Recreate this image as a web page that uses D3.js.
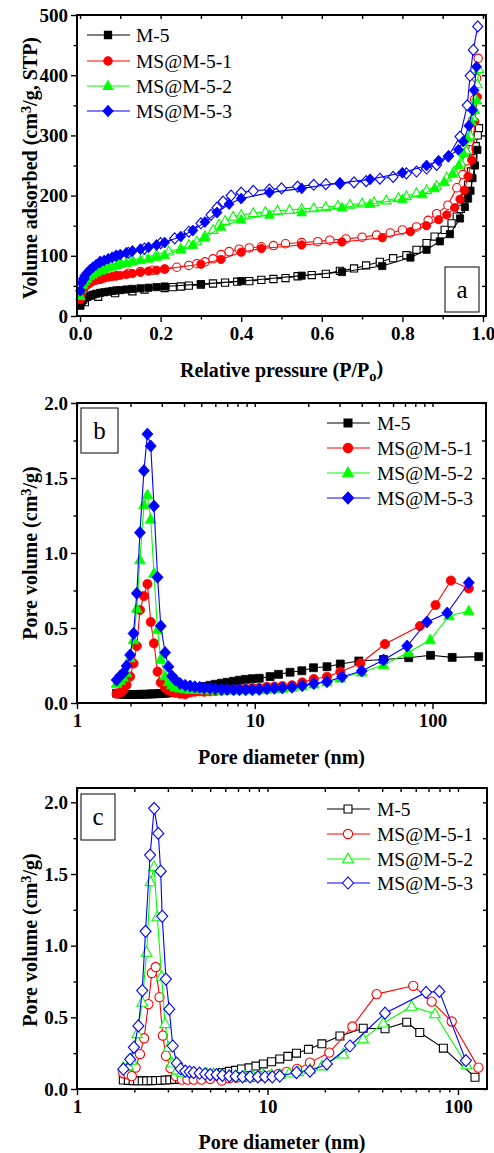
<!DOCTYPE html>
<html><head><meta charset="utf-8">
<script src="https://cdn.jsdelivr.net/npm/d3@7"></script>
<style>
body{margin:0;background:#fff}
svg{display:block}
text{font-family:"Liberation Serif","Times New Roman",serif;fill:#000}
</style>
</head><body>
<svg id="chart" width="494" height="1153"></svg>
<script>
// ---------------- DATA ----------------
const seriesNames = ["M-5", "MS@M-5-1", "MS@M-5-2", "MS@M-5-3"];
const panelLetters = ["a", "b", "c"];

const pressureTicks = [0.0, 0.2, 0.4, 0.6, 0.8, 1.0];
const volumeTicks = [0, 100, 200, 300, 400, 500];
const poreTicks = [1, 10, 100];
const poreVolumeTicks = [0.0, 0.5, 1.0, 1.5, 2.0];

// (a) isotherms: [P/P0, volume]
const m5Ads = [[0.001,17],[0.004,23],[0.008,27],[0.012,30],[0.018,32],[0.025,34],[0.032,35.5],[0.04,37],[0.05,38.5],[0.06,39.5],[0.07,40.5],[0.08,41.5],[0.09,42.5],[0.10,43],[0.115,44],[0.13,45],[0.15,46],[0.17,47],[0.19,48],[0.21,49],[0.30,53],[0.40,58],[0.55,67],[0.65,73],[0.75,83],[0.82,97],[0.86,110],[0.893,124],[0.918,136],[0.943,162],[0.955,181],[0.963,195],[0.969,208],[0.974,229],[0.98,250],[0.986,276]];
const m5Des = [[0.99,312],[0.987,300],[0.982,282],[0.976,262],[0.97,240],[0.963,218],[0.955,196],[0.945,178],[0.935,165],[0.922,154],[0.905,143],[0.88,132],[0.86,121],[0.835,110],[0.81,101],[0.777,96],[0.744,90],[0.71,84],[0.68,79],[0.645,75],[0.61,70],[0.575,68],[0.54,66],[0.51,63],[0.48,61.5],[0.45,60],[0.42,58],[0.39,57],[0.36,55.5],[0.33,54],[0.30,52],[0.27,50.5],[0.25,49],[0.23,48],[0.21,46.5],[0.16,44],[0.13,41],[0.087,38],[0.045,32],[0.012,23]];

const s1Ads = [[0.001,27],[0.004,36],[0.008,43],[0.012,48],[0.018,52],[0.025,55],[0.032,57.5],[0.04,59.5],[0.05,61.5],[0.06,63],[0.07,64.5],[0.08,65.5],[0.09,66.5],[0.10,67.5],[0.115,69],[0.13,70.5],[0.15,72.5],[0.17,74.5],[0.19,76],[0.21,78],[0.30,86],[0.35,94],[0.40,106],[0.45,112],[0.55,118],[0.65,123],[0.75,130],[0.82,140],[0.86,150],[0.89,160],[0.91,168],[0.93,180],[0.943,194],[0.954,209],[0.963,232],[0.972,259],[0.98,323],[0.986,364]];
const s1Des = [[0.988,428],[0.984,395],[0.979,360],[0.974,325],[0.968,290],[0.96,258],[0.95,235],[0.935,213],[0.913,184],[0.885,170],[0.864,159],[0.835,148],[0.80,143],[0.77,138],[0.736,134.5],[0.70,131],[0.66,128],[0.62,126],[0.59,123.5],[0.55,122],[0.51,120],[0.48,117],[0.45,115],[0.42,113],[0.395,111],[0.37,107],[0.35,102],[0.33,95],[0.31,90],[0.29,87],[0.27,84],[0.24,81],[0.21,78],[0.18,76],[0.15,74],[0.12,71],[0.09,67],[0.05,61],[0.02,53]];

const s2Ads = [[0.001,33],[0.004,45],[0.008,52],[0.012,57],[0.018,62],[0.025,66],[0.032,69],[0.04,72],[0.05,75],[0.06,77.5],[0.07,80],[0.08,82],[0.09,84],[0.10,86],[0.115,88],[0.13,90],[0.15,92.5],[0.17,95],[0.19,98],[0.21,101],[0.25,110],[0.28,118],[0.31,130],[0.35,148],[0.40,160],[0.47,168],[0.55,172],[0.65,180],[0.72,186],[0.80,194],[0.85,202],[0.88,212],[0.905,222],[0.925,236],[0.94,250],[0.952,270],[0.962,295],[0.972,322],[0.98,342],[0.985,358]];
const s2Des = [[0.99,410],[0.986,385],[0.981,360],[0.975,330],[0.968,300],[0.958,275],[0.945,255],[0.928,240],[0.91,230],[0.885,216],[0.86,209],[0.835,204],[0.81,199],[0.79,196],[0.76,192],[0.73,189],[0.70,187],[0.67,185],[0.64,183],[0.61,181],[0.58,179],[0.55,178],[0.52,176],[0.49,175],[0.46,173],[0.43,171],[0.40,168],[0.38,165],[0.36,158],[0.345,152],[0.33,143],[0.31,133],[0.29,124],[0.27,118],[0.25,112],[0.22,107],[0.19,102],[0.16,97],[0.13,93],[0.10,89],[0.07,84],[0.04,76],[0.015,62]];

const s3Ads = [[0.001,42],[0.004,55],[0.008,62],[0.012,67],[0.018,72],[0.025,77],[0.032,81],[0.04,85],[0.05,89],[0.06,92],[0.07,95],[0.08,97.5],[0.09,100],[0.10,102],[0.115,105],[0.13,108],[0.15,111],[0.17,114],[0.19,118],[0.21,122],[0.25,132],[0.28,142],[0.31,156],[0.34,172],[0.37,186],[0.40,195],[0.47,205],[0.55,212],[0.645,221],[0.72,227],[0.80,238],[0.86,250],[0.89,258],[0.915,266],[0.939,276],[0.951,290],[0.965,316],[0.974,342],[0.978,375],[0.984,414]];
const s3Des = [[0.987,481],[0.976,442],[0.968,399],[0.961,350],[0.943,298],[0.914,265],[0.885,251],[0.86,245],[0.835,240],[0.81,237],[0.777,231],[0.744,228],[0.71,224],[0.68,222],[0.645,220],[0.61,219],[0.58,218],[0.54,215],[0.50,212],[0.47,210],[0.43,208],[0.40,205],[0.375,200],[0.355,190],[0.34,180],[0.325,168],[0.30,154],[0.27,140],[0.235,129],[0.20,121],[0.16,112],[0.12,105],[0.09,100],[0.05,90],[0.01,62]];

// (b) pore size distribution: [diameter nm, pore volume]
const m5PoreB = [[1.67,0.065],[1.75,0.06],[1.82,0.058],[1.9,0.057],[1.99,0.057],[2.08,0.057],[2.17,0.057],[2.26,0.058],[2.38,0.058],[2.49,0.059],[2.6,0.06],[2.71,0.061],[2.84,0.062],[2.96,0.063],[3.13,0.065],[3.27,0.067],[3.42,0.07],[3.57,0.073],[3.8,0.077],[4.06,0.082],[4.33,0.088],[4.6,0.095],[4.9,0.103],[5.2,0.11],[5.6,0.118],[6.0,0.125],[6.5,0.132],[7.0,0.138],[7.6,0.145],[8.2,0.152],[8.9,0.158],[9.7,0.162],[10.6,0.165],[12.2,0.176],[13.6,0.191],[15.8,0.205],[18.4,0.215],[21.4,0.235],[25.5,0.242],[30.3,0.26],[38.5,0.28],[53,0.29],[73.5,0.302],[97.5,0.318],[129,0.304],[182,0.309]];
const s1PoreB = [[1.67,0.062],[1.75,0.07],[1.82,0.085],[1.9,0.12],[1.99,0.176],[2.08,0.264],[2.17,0.38],[2.26,0.62],[2.38,0.713],[2.49,0.793],[2.6,0.54],[2.71,0.398],[2.84,0.209],[2.96,0.136],[3.13,0.10],[3.27,0.085],[3.42,0.075],[3.57,0.068],[3.8,0.062],[4.06,0.058],[4.33,0.07],[4.6,0.075],[4.9,0.078],[5.2,0.075],[5.6,0.078],[6.0,0.08],[6.5,0.082],[7.0,0.088],[7.6,0.09],[8.2,0.092],[8.9,0.095],[9.7,0.1],[10.6,0.1],[11.7,0.108],[12.9,0.11],[14.3,0.113],[16.2,0.118],[18.5,0.137],[21.5,0.16],[25.5,0.175],[30.3,0.209],[39.3,0.264],[54,0.393],[85,0.513],[104,0.653],[127,0.816],[160,0.764]];
const s2PoreB = [[1.67,0.13],[1.75,0.15],[1.82,0.17],[1.9,0.2],[1.99,0.3],[2.08,0.42],[2.17,0.63],[2.26,0.953],[2.38,1.32],[2.49,1.387],[2.6,1.224],[2.71,0.864],[2.84,0.487],[2.96,0.291],[3.13,0.18],[3.27,0.14],[3.42,0.12],[3.57,0.105],[3.8,0.098],[4.06,0.093],[4.33,0.09],[4.6,0.09],[4.9,0.088],[5.2,0.087],[5.6,0.086],[6.0,0.085],[6.5,0.085],[7.0,0.085],[7.6,0.085],[8.2,0.085],[8.9,0.086],[9.7,0.087],[10.6,0.088],[11.7,0.09],[12.9,0.093],[14.3,0.097],[16.2,0.103],[18.5,0.113],[21.5,0.125],[25.5,0.14],[30.3,0.165],[40,0.205],[53,0.253],[73,0.336],[97,0.42],[124,0.58],[160,0.613]];
const s3PoreB = [[1.67,0.153],[1.75,0.18],[1.82,0.2],[1.9,0.247],[1.99,0.32],[2.08,0.464],[2.17,0.731],[2.26,1.136],[2.38,1.549],[2.49,1.793],[2.6,1.713],[2.71,1.313],[2.84,0.838],[2.96,0.513],[3.13,0.336],[3.27,0.242],[3.42,0.18],[3.57,0.155],[3.8,0.13],[4.06,0.118],[4.33,0.113],[4.6,0.108],[4.9,0.105],[5.2,0.1],[5.6,0.098],[6.0,0.095],[6.5,0.092],[7.0,0.09],[7.6,0.088],[8.2,0.088],[8.9,0.088],[9.7,0.088],[10.6,0.09],[11.7,0.095],[12.9,0.098],[14.3,0.1],[16.2,0.105],[18.5,0.116],[21.5,0.13],[25.5,0.142],[31,0.175],[40,0.213],[53,0.287],[72,0.38],[93,0.54],[121,0.6],[160,0.802]];

// (c) pore size distribution: [diameter nm, pore volume]
const m5PoreC = [[1.75,0.063],[1.86,0.06],[1.97,0.058],[2.08,0.057],[2.2,0.057],[2.32,0.057],[2.45,0.058],[2.59,0.059],[2.74,0.06],[2.9,0.062],[3.07,0.064],[3.25,0.067],[3.45,0.07],[3.66,0.073],[3.9,0.077],[4.15,0.082],[4.42,0.088],[4.72,0.095],[5.05,0.102],[5.4,0.108],[5.8,0.115],[6.3,0.123],[6.8,0.13],[7.3,0.14],[8.0,0.148],[8.7,0.16],[9.5,0.175],[10.5,0.19],[11.6,0.21],[12.8,0.228],[14.2,0.25],[16.4,0.277],[19.3,0.315],[24,0.37],[31.8,0.424],[41.4,0.42],[53.8,0.466],[63,0.394],[83.8,0.285],[122.8,0.082]];
const s1PoreC = [[1.75,0.11],[1.86,0.1],[1.94,0.09],[2.03,0.15],[2.14,0.243],[2.25,0.354],[2.37,0.592],[2.47,0.809],[2.59,0.851],[2.71,0.641],[2.82,0.373],[2.93,0.231],[3.1,0.145],[3.3,0.09],[3.55,0.065],[3.8,0.065],[4.1,0.065],[4.5,0.065],[5.0,0.07],[5.75,0.058],[6.3,0.075],[6.9,0.08],[7.6,0.085],[8.4,0.085],[9.3,0.09],[10.3,0.095],[11.4,0.105],[12.6,0.12],[14.3,0.14],[16.7,0.184],[21.1,0.254],[27.9,0.436],[37.4,0.662],[58.2,0.72],[72.8,0.61],[92.7,0.471],[128,0.149]];
const s2PoreC = [[1.75,0.15],[1.86,0.16],[1.94,0.2],[2.07,0.385],[2.2,0.604],[2.32,0.953],[2.43,1.445],[2.54,1.55],[2.64,1.2],[2.78,0.785],[2.9,0.455],[3.02,0.29],[3.15,0.18],[3.35,0.13],[3.55,0.115],[3.8,0.11],[4.1,0.11],[4.4,0.11],[4.8,0.108],[5.2,0.105],[5.7,0.1],[6.3,0.095],[6.9,0.09],[7.6,0.09],[8.4,0.09],[9.5,0.1],[10.5,0.1],[11.6,0.1],[13,0.11],[14.5,0.12],[16.7,0.135],[19.3,0.16],[25,0.243],[31.8,0.348],[40.5,0.459],[57.1,0.576],[75.7,0.524],[111,0.168]];
const s3PoreC = [[1.75,0.138],[1.9,0.207],[1.99,0.291],[2.1,0.44],[2.2,0.687],[2.29,1.1],[2.42,1.632],[2.54,1.958],[2.67,1.783],[2.75,1.52],[2.8,1.205],[2.93,0.767],[3.05,0.557],[3.18,0.3],[3.34,0.18],[3.5,0.14],[3.7,0.125],[3.9,0.12],[4.1,0.115],[4.4,0.11],[4.7,0.105],[5.0,0.1],[5.4,0.1],[5.8,0.095],[6.3,0.09],[6.8,0.088],[7.4,0.085],[8.1,0.085],[8.9,0.085],[9.7,0.085],[10.6,0.085],[11.6,0.09],[14.2,0.115],[16.7,0.125],[20.5,0.175],[27.1,0.3],[41.4,0.529],[68,0.674],[79.8,0.681],[110,0.198]];

// ---------------- STYLE ----------------
const colors = ["#000000", "#ff0000", "#00ff00", "#0000ff"];
const shapes = ["square", "circle", "triangle", "diamond"];
const FONT_TICK = 19, FONT_TITLE = 20, FONT_LEG = 19.5;

const svg = d3.select("#chart");

function shapePath(type, r) {
  if (type === "square") return `M${-r},${-r}h${2*r}v${2*r}h${-2*r}Z`;
  if (type === "circle") return `M${r},0A${r},${r} 0 1,1 ${-r},0A${r},${r} 0 1,1 ${r},0Z`;
  if (type === "triangle") { const h = r*1.15; return `M0,${-h}L${r*1.05},${r*0.75}L${-r*1.05},${r*0.75}Z`; }
  return `M0,${-r*1.1}L${r},0L0,${r*1.1}L${-r},0Z`;
}
const markR = {square: 3.6, circle: 4.2, triangle: 4.6, diamond: 5};

function drawSeries(g, x, y, data, i, open, scaleR) {
  const col = colors[i];
  g.append("path").datum(data)
    .attr("d", d3.line().x(d => x(d[0])).y(d => y(d[1])))
    .attr("fill", "none").attr("stroke", col).attr("stroke-width", 1.1);
  g.selectAll(null).data(data).enter().append("path")
    .attr("transform", d => `translate(${x(d[0])},${y(d[1])})`)
    .attr("d", shapePath(shapes[i], markR[shapes[i]] * scaleR))
    .attr("fill", open ? "#fff" : col)
    .attr("stroke", col).attr("stroke-width", open ? 1.1 : 0.8);
}

function axes(g, x, y, box, opt) {
  const {l, r, t, b} = box;
  const bx = g.append("g").attr("transform", `translate(0,${b})`);
  bx.call(d3.axisBottom(x).tickValues(opt.xMajor).tickSize(6).tickSizeOuter(0).tickPadding(5).tickFormat(opt.xFmt));
  bx.append("g").call(d3.axisBottom(x).tickValues(opt.xMinor).tickSize(3.5).tickSizeOuter(0).tickFormat(""));
  const tx = g.append("g").attr("transform", `translate(0,${t})`);
  tx.call(d3.axisBottom(x).tickValues(opt.xMajor.concat(opt.xMinor)).tickSize(4).tickSizeOuter(0).tickFormat(""));
  const ly = g.append("g").attr("transform", `translate(${l},0)`);
  ly.call(d3.axisLeft(y).tickValues(opt.yMajor).tickSize(6).tickSizeOuter(0).tickPadding(3).tickFormat(opt.yFmt));
  ly.append("g").call(d3.axisLeft(y).tickValues(opt.yMinor).tickSize(3.5).tickSizeOuter(0).tickFormat(""));
  const ry = g.append("g").attr("transform", `translate(${r},0)`);
  ry.call(d3.axisLeft(y).tickValues(opt.yMajor.concat(opt.yMinor)).tickSize(4).tickSizeOuter(0).tickFormat(""));
  g.selectAll(".domain").remove();
  g.selectAll(".tick line").attr("stroke", "#000").attr("stroke-width", 1.4);
  g.selectAll(".tick text").style("font-size", FONT_TICK + "px").style("font-weight", "bold")
    .style("font-family", '"Liberation Serif","Times New Roman",serif').attr("fill", "#000");
  g.append("rect").attr("x", l).attr("y", t).attr("width", r - l).attr("height", b - t)
    .attr("fill", "none").attr("stroke", "#000").attr("stroke-width", 2);
}

function yTitle(g, cx, cy, parts) {
  const t = g.append("text").attr("transform", `translate(${cx},${cy}) rotate(-90)`)
    .attr("text-anchor", "middle").style("font-size", FONT_TITLE + "px").style("font-weight", "bold");
  parts.forEach(p => {
    const s = t.append("tspan").text(p.t);
    if (p.sup) s.attr("dy", "-0.42em").style("font-size", "0.72em");
    if (p.after) s.attr("dy", "0.3em");
  });
}

function legend(g, x1, x2, mx, tx, ys, open, scaleR) {
  ys.forEach((yy, i) => {
    g.append("line").attr("x1", x1).attr("x2", x2).attr("y1", yy).attr("y2", yy)
      .attr("stroke", colors[i]).attr("stroke-width", 1.2);
    g.append("path").attr("transform", `translate(${mx},${yy})`)
      .attr("d", shapePath(shapes[i], markR[shapes[i]] * scaleR))
      .attr("fill", open ? "#fff" : colors[i]).attr("stroke", colors[i]).attr("stroke-width", 1.1);
    g.append("text").attr("x", tx).attr("y", yy + 6.5).style("font-size", FONT_LEG + "px").text(seriesNames[i]);
  });
}

function letterBox(g, x, y, w, h, letter) {
  g.append("rect").attr("x", x).attr("y", y).attr("width", w).attr("height", h)
    .attr("fill", "#fff").attr("stroke", "#000").attr("stroke-width", 1);
  g.append("text").attr("x", x + w / 2).attr("y", y + h / 2 + 8).attr("text-anchor", "middle")
    .style("font-size", "25px").text(letter);
}

const logMinor = (lo, hi) => { const a = []; for (let dec = 1; dec <= 100; dec *= 10) for (let k = 2; k <= 9; k++) { const v = k * dec; if (v > lo && v < hi) a.push(v); } return a; };

// ---------- Panel a ----------
{
  const box = {l: 77, r: 486, t: 15, b: 316};
  const x = d3.scaleLinear().domain([-0.0075, 1.0075]).range([box.l, box.r]);
  const y = d3.scaleLinear().domain([0, 500]).range([box.b, box.t]);
  const g = svg.append("g");
  const ads = [m5Ads, s1Ads, s2Ads, s3Ads], des = [m5Des, s1Des, s2Des, s3Des];
  const pg = g.append("g");
  for (let i = 0; i < 4; i++) { drawSeries(pg, x, y, des[i], i, true, 1); drawSeries(pg, x, y, ads[i], i, false, 1); }
  axes(g, x, y, box, {
    xMajor: pressureTicks, xMinor: [0.1, 0.3, 0.5, 0.7, 0.9], xFmt: d3.format(".1f"),
    yMajor: volumeTicks, yMinor: [50, 150, 250, 350, 450], yFmt: d3.format("d")
  });
  legend(g, 87, 130, 108, 136, [35, 61, 86, 111], false, 1);
  letterBox(g, 445, 267, 34, 45, panelLetters[0]);
  const xt = g.append("text").attr("x", (box.l + box.r) / 2).attr("y", 377).attr("text-anchor", "middle")
    .style("font-size", FONT_TITLE + "px").style("font-weight", "bold");
  xt.append("tspan").text("Relative pressure (P/P");
  xt.append("tspan").attr("dy", "0.3em").style("font-size", "0.72em").text("o");
  xt.append("tspan").attr("dy", "-0.3em").text(")");
  yTitle(g, 37, 168, [{t: "Volume adsorbed (cm"}, {t: "3", sup: true}, {t: "/g, STP)", after: true}]);
}

// ---------- Panel b ----------
{
  const box = {l: 77, r: 486, t: 403, b: 703};
  const x = d3.scaleLog().domain([1, 200]).range([box.l, box.r]);
  const y = d3.scaleLinear().domain([0, 2.0]).range([box.b, box.t]);
  const g = svg.append("g");
  const data = [m5PoreB, s1PoreB, s2PoreB, s3PoreB];
  const pg = g.append("g");
  for (let i = 0; i < 4; i++) drawSeries(pg, x, y, data[i], i, false, 1.1);
  axes(g, x, y, box, {
    xMajor: poreTicks, xMinor: logMinor(1, 200), xFmt: d3.format("d"),
    yMajor: poreVolumeTicks, yMinor: [0.25, 0.75, 1.25, 1.75], yFmt: d3.format(".1f")
  });
  legend(g, 327, 370, 348, 377, [423, 448, 473, 498], false, 1.1);
  letterBox(g, 81, 408, 37, 45, panelLetters[1]);
  g.append("text").attr("x", (box.l + box.r) / 2).attr("y", 764).attr("text-anchor", "middle")
    .style("font-size", FONT_TITLE + "px").style("font-weight", "bold").text("Pore diameter (nm)");
  yTitle(g, 37, 553, [{t: "Pore volume (cm"}, {t: "3", sup: true}, {t: "/g)", after: true}]);
}

// ---------- Panel c ----------
{
  const box = {l: 77, r: 487, t: 788, b: 1089};
  const x = d3.scaleLog().domain([1, 142]).range([box.l, box.r]);
  const y = d3.scaleLinear().domain([0, 2.1]).range([box.b, box.t]);
  const g = svg.append("g");
  const data = [m5PoreC, s1PoreC, s2PoreC, s3PoreC];
  const pg = g.append("g");
  for (let i = 0; i < 4; i++) drawSeries(pg, x, y, data[i], i, true, 1.1);
  axes(g, x, y, box, {
    xMajor: poreTicks, xMinor: logMinor(1, 142), xFmt: d3.format("d"),
    yMajor: poreVolumeTicks, yMinor: [0.25, 0.75, 1.25, 1.75], yFmt: d3.format(".1f")
  });
  legend(g, 327, 370, 348, 377, [809, 834, 859, 883], true, 1.1);
  letterBox(g, 81, 794, 34, 46, panelLetters[2]);
  g.append("text").attr("x", (box.l + box.r) / 2).attr("y", 1149).attr("text-anchor", "middle")
    .style("font-size", FONT_TITLE + "px").style("font-weight", "bold").text("Pore diameter (nm)");
  yTitle(g, 37, 940, [{t: "Pore volume (cm"}, {t: "3", sup: true}, {t: "/g)", after: true}]);
}
</script>
</body></html>
